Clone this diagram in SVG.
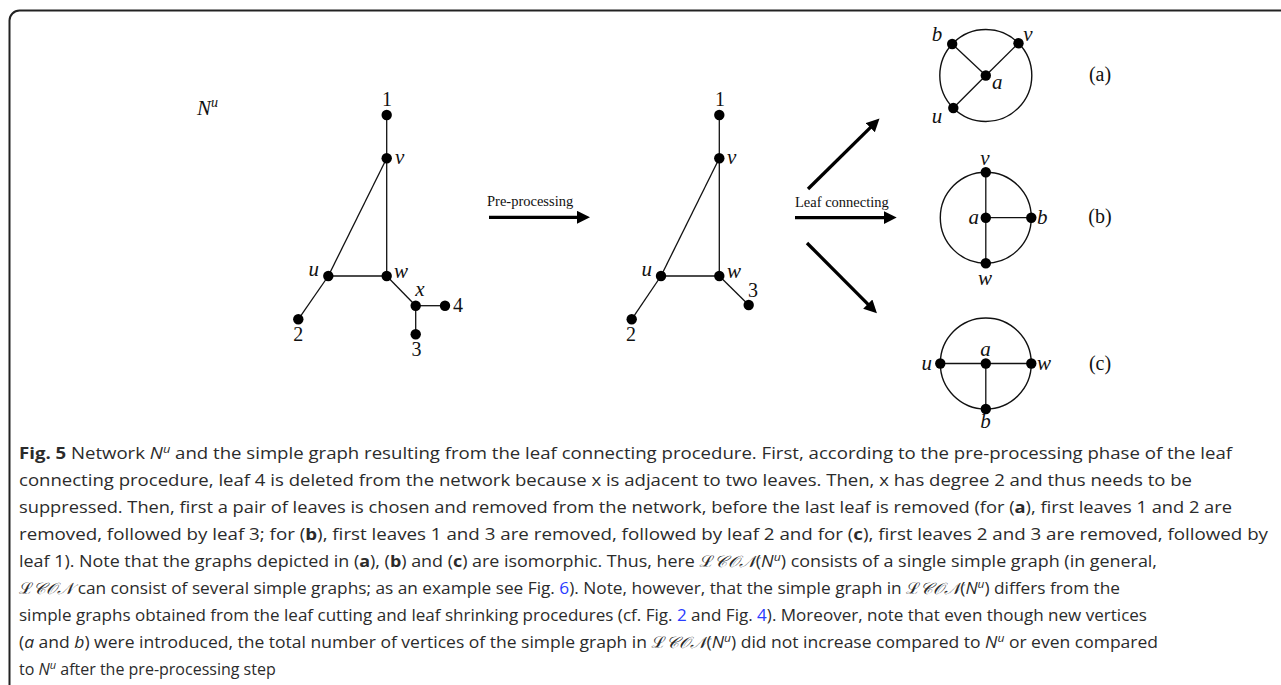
<svg xmlns="http://www.w3.org/2000/svg" width="1281" height="685" viewBox="0 0 1281 685">
<defs>
<style>
.e{stroke:#111;stroke-width:1.3;fill:none}
.n{fill:#000}
.ring{stroke:#111;stroke-width:1.4;fill:none}
.lb{font-family:"Liberation Serif","DejaVu Serif",serif;font-style:italic;font-size:21px;fill:#111}
.num{font-family:"Liberation Serif","DejaVu Serif",serif;font-size:20px;fill:#111}
.tag{font-family:"Liberation Serif","DejaVu Serif",serif;font-size:20px;fill:#111}
.arr{stroke:#000;stroke-width:3.3;fill:none}
.al{font-family:"Liberation Serif","DejaVu Serif",serif;font-size:14.5px;fill:#111}
.cap{font-family:"Open Sans","Noto Sans","Liberation Sans",sans-serif;font-size:16px;fill:#2b2b2b}
.b{font-weight:bold}
.i{font-style:italic}
.lk{fill:#2a3cff}
.sc{font-family:"DejaVu Serif","Noto Sans","Liberation Serif",serif;font-style:italic}
</style>
<marker id="ah" markerUnits="userSpaceOnUse" markerWidth="14" markerHeight="14" refX="4" refY="6.5" orient="auto">
<path d="M0,0 L13,6.5 L0,13 z" fill="#000"/>
</marker>
</defs>
<rect width="1281" height="685" fill="#fff"/>
<path d="M9.5,700 V20.5 A10,10 0 0 1 19.5,10.5 H1295" fill="none" stroke="#222" stroke-width="2"/>

<g id="connectors">
<line class="e" x1="386.7" y1="115" x2="386.7" y2="158.3"/>
<line class="e" x1="386.7" y1="158.3" x2="386.7" y2="276"/>
<line class="e" x1="386.7" y1="158.3" x2="328.3" y2="276"/>
<line class="e" x1="328.3" y1="276" x2="386.7" y2="276"/>
<line class="e" x1="328.3" y1="276" x2="298.3" y2="319.3"/>
<line class="e" x1="386.7" y1="276" x2="415.7" y2="305.7"/>
<line class="e" x1="415.7" y1="305.7" x2="445" y2="305.7"/>
<line class="e" x1="415.7" y1="305.7" x2="415.7" y2="334.3"/>

<line class="e" x1="719.3" y1="115" x2="719.3" y2="158.3"/>
<line class="e" x1="719.3" y1="158.3" x2="719.3" y2="276"/>
<line class="e" x1="719.3" y1="158.3" x2="661" y2="276"/>
<line class="e" x1="661" y1="276" x2="719.3" y2="276"/>
<line class="e" x1="661" y1="276" x2="631.7" y2="319.3"/>
<line class="e" x1="719.3" y1="276" x2="748.7" y2="305"/>

<line class="arr" x1="489" y1="217.3" x2="581" y2="217.3" marker-end="url(#ah)"/>
<line class="arr" x1="795" y1="217.6" x2="887.7" y2="217.6" marker-end="url(#ah)"/>
<line class="arr" x1="808" y1="189" x2="873.1" y2="124.8" marker-end="url(#ah)"/>
<line class="arr" x1="807" y1="243" x2="870.6" y2="306.9" marker-end="url(#ah)"/>

<line class="e" x1="952.2" y1="44" x2="985.8" y2="75.5"/>
<line class="e" x1="1018.5" y1="43.2" x2="985.8" y2="75.5"/>
<line class="e" x1="953.3" y1="108" x2="985.8" y2="75.5"/>

<line class="e" x1="985.8" y1="172.2" x2="985.8" y2="263.2"/>
<line class="e" x1="985.8" y1="217.7" x2="1031.3" y2="217.7"/>

<line class="e" x1="940.3" y1="363.5" x2="1031.3" y2="363.5"/>
<line class="e" x1="985.8" y1="363.5" x2="985.8" y2="409"/>
</g>

<g id="label-Nu"><text class="lb" x="197" y="115">N<tspan font-size="14" dy="-8">u</tspan></text></g>

<g id="left-1"><circle class="n" cx="386.7" cy="115" r="5.2"/><text class="num" x="387" y="106" text-anchor="middle">1</text></g>
<g id="left-v"><circle class="n" cx="386.7" cy="158.3" r="5.2"/><text class="lb" x="395" y="164">v</text></g>
<g id="left-u"><circle class="n" cx="328.3" cy="276" r="5.2"/><text class="lb" x="319" y="276" text-anchor="end">u</text></g>
<g id="left-w"><circle class="n" cx="386.7" cy="276" r="5.2"/><text class="lb" x="394" y="278">w</text></g>
<g id="left-x"><circle class="n" cx="415.7" cy="305.7" r="5.2"/><text class="lb" x="420" y="296" text-anchor="middle">x</text></g>
<g id="left-4"><circle class="n" cx="445" cy="305.7" r="5.2"/><text class="num" x="458" y="312" text-anchor="middle">4</text></g>
<g id="left-3"><circle class="n" cx="415.7" cy="334.3" r="5.2"/><text class="num" x="416.5" y="356" text-anchor="middle">3</text></g>
<g id="left-2"><circle class="n" cx="298.3" cy="319.3" r="5.2"/><text class="num" x="298.3" y="341" text-anchor="middle">2</text></g>

<g id="pre-label"><text class="al" x="487" y="206">Pre-processing</text></g>

<g id="mid-1"><circle class="n" cx="719.3" cy="115" r="5.2"/><text class="num" x="720" y="106" text-anchor="middle">1</text></g>
<g id="mid-v"><circle class="n" cx="719.3" cy="158.3" r="5.2"/><text class="lb" x="727" y="164">v</text></g>
<g id="mid-u"><circle class="n" cx="661" cy="276" r="5.2"/><text class="lb" x="652" y="276" text-anchor="end">u</text></g>
<g id="mid-w"><circle class="n" cx="719.3" cy="276" r="5.2"/><text class="lb" x="727" y="278">w</text></g>
<g id="mid-3"><circle class="n" cx="748.7" cy="305" r="5.2"/><text class="num" x="753" y="297" text-anchor="middle">3</text></g>
<g id="mid-2"><circle class="n" cx="631.7" cy="319.3" r="5.2"/><text class="num" x="631" y="341" text-anchor="middle">2</text></g>

<g id="leaf-label"><text class="al" x="795" y="207">Leaf connecting</text></g>

<g id="graph-a">
<circle class="ring" cx="985.8" cy="75.5" r="46"/>
<circle class="n" cx="952.2" cy="44" r="5.2"/><text class="lb" x="937" y="41" text-anchor="middle">b</text>
<circle class="n" cx="1018.5" cy="43.2" r="5.2"/><text class="lb" x="1028" y="41" text-anchor="middle">v</text>
<circle class="n" cx="985.8" cy="75.5" r="5.2"/><text class="lb" x="992" y="89">a</text>
<circle class="n" cx="953.3" cy="108" r="5.2"/><text class="lb" x="937" y="123" text-anchor="middle">u</text>
<text class="tag" x="1100" y="81" text-anchor="middle">(a)</text>
</g>

<g id="graph-b">
<circle class="ring" cx="985.8" cy="217.7" r="45.5"/>
<circle class="n" cx="985.8" cy="172.2" r="5.2"/><text class="lb" x="985" y="165" text-anchor="middle">v</text>
<circle class="n" cx="985.8" cy="217.7" r="5.2"/><text class="lb" x="979" y="224" text-anchor="end">a</text>
<circle class="n" cx="1031.3" cy="217.7" r="5.2"/><text class="lb" x="1037" y="224">b</text>
<circle class="n" cx="985.8" cy="263.2" r="5.2"/><text class="lb" x="985" y="285" text-anchor="middle">w</text>
<text class="tag" x="1100" y="223" text-anchor="middle">(b)</text>
</g>

<g id="graph-c">
<circle class="ring" cx="985.8" cy="363.5" r="45.5"/>
<circle class="n" cx="940.3" cy="363.5" r="5.2"/><text class="lb" x="932" y="370" text-anchor="end">u</text>
<circle class="n" cx="985.8" cy="363.5" r="5.2"/><text class="lb" x="985.5" y="356" text-anchor="middle">a</text>
<circle class="n" cx="1031.3" cy="363.5" r="5.2"/><text class="lb" x="1037" y="370">w</text>
<circle class="n" cx="985.8" cy="409" r="5.2"/><text class="lb" x="985.5" y="428" text-anchor="middle">b</text>
<text class="tag" x="1100" y="370" text-anchor="middle">(c)</text>
</g>

<g id="caption">
<text class="cap" x="19" y="459" textLength="1213" lengthAdjust="spacingAndGlyphs"><tspan class="b">Fig. 5</tspan> Network <tspan class="i">N</tspan><tspan class="i" font-size="11" dy="-6">u</tspan><tspan dy="6"> and the simple graph resulting from the leaf connecting procedure. First, according to the pre-processing phase of the leaf</tspan></text>
<text class="cap" x="19" y="486" textLength="1173" lengthAdjust="spacingAndGlyphs">connecting procedure, leaf 4 is deleted from the network because x is adjacent to two leaves. Then, x has degree 2 and thus needs to be</text>
<text class="cap" x="19" y="513" textLength="1213" lengthAdjust="spacingAndGlyphs">suppressed. Then, first a pair of leaves is chosen and removed from the network, before the last leaf is removed (for (<tspan class="b">a</tspan>), first leaves 1 and 2 are</text>
<text class="cap" x="19" y="540" textLength="1249" lengthAdjust="spacingAndGlyphs">removed, followed by leaf 3; for (<tspan class="b">b</tspan>), first leaves 1 and 3 are removed, followed by leaf 2 and for (<tspan class="b">c</tspan>), first leaves 2 and 3 are removed, followed by</text>
<text class="cap" x="19" y="567" textLength="1138" lengthAdjust="spacingAndGlyphs">leaf 1). Note that the graphs depicted in (<tspan class="b">a</tspan>), (<tspan class="b">b</tspan>) and (<tspan class="b">c</tspan>) are isomorphic. Thus, here <tspan class="sc">ℒ𝒞𝒪𝒩</tspan>(<tspan class="i">N</tspan><tspan class="i" font-size="11" dy="-6">u</tspan><tspan dy="6">) consists of a single simple graph (in general,</tspan></text>
<text class="cap" x="19" y="594" textLength="1101" lengthAdjust="spacingAndGlyphs"><tspan class="sc">ℒ𝒞𝒪𝒩</tspan> can consist of several simple graphs; as an example see Fig. <tspan class="lk">6</tspan>). Note, however, that the simple graph in <tspan class="sc">ℒ𝒞𝒪𝒩</tspan>(<tspan class="i">N</tspan><tspan class="i" font-size="11" dy="-6">u</tspan><tspan dy="6">) differs from the</tspan></text>
<text class="cap" x="19" y="621" textLength="1128" lengthAdjust="spacingAndGlyphs">simple graphs obtained from the leaf cutting and leaf shrinking procedures (cf. Fig. <tspan class="lk">2</tspan> and Fig. <tspan class="lk">4</tspan>). Moreover, note that even though new vertices</text>
<text class="cap" x="19" y="648" textLength="1139" lengthAdjust="spacingAndGlyphs">(<tspan class="i">a</tspan> and <tspan class="i">b</tspan>) were introduced, the total number of vertices of the simple graph in <tspan class="sc">ℒ𝒞𝒪𝒩</tspan>(<tspan class="i">N</tspan><tspan class="i" font-size="11" dy="-6">u</tspan><tspan dy="6">) did not increase compared to </tspan><tspan class="i">N</tspan><tspan class="i" font-size="11" dy="-6">u</tspan><tspan dy="6"> or even compared</tspan></text>
<text class="cap" x="19" y="675">to <tspan class="i">N</tspan><tspan class="i" font-size="11" dy="-6">u</tspan><tspan dy="6"> after the pre-processing step</tspan></text>
</g>
</svg>
